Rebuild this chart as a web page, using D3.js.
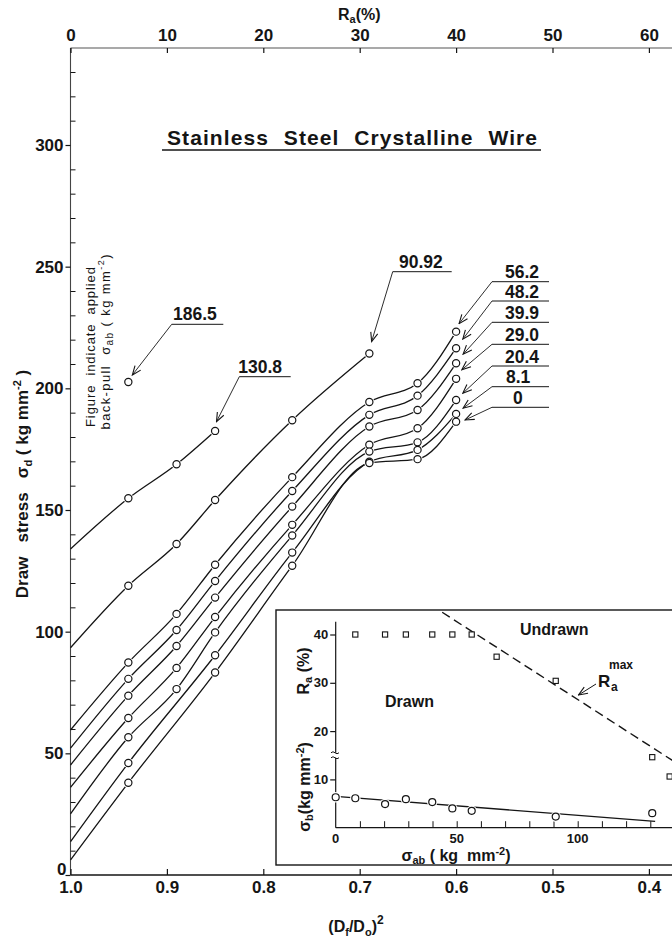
<!DOCTYPE html>
<html>
<head>
<meta charset="utf-8">
<script src="https://cdn.jsdelivr.net/npm/d3@7/dist/d3.min.js"></script>
<style>
html,body{margin:0;padding:0;background:#fff;}
svg{display:block;}
text{font-family:"Liberation Sans",Arial,sans-serif;fill:#151515;white-space:pre;}
</style>
</head>
<body>
<svg id="chart" width="672" height="942"></svg>
<script>
// ---------------- data ----------------
const ratioTicks = [1.0, 0.9, 0.8, 0.7, 0.6, 0.5, 0.4];
const ratioTickLabels = ["1.0", "0.9", "0.8", "0.7", "0.6", "0.5", "0.4"];
const reductionTicks = [0, 10, 20, 30, 40, 50, 60];
const stressTicks = [0, 50, 100, 150, 200, 250, 300];

// (Df/Do)^2 positions of the measurements (1.0 = extrapolated intercept, no marker)
const ratioX = [1.0, 0.94, 0.89, 0.85, 0.77, 0.69, 0.64, 0.60];

// draw stress (kg mm^-2) for each applied back-pull
const bp562 = [59.6, 87.3, 107.3, 127.5, 163.5, 194.4, 202.1, 223.3];
const bp482 = [52.1, 80.6, 100.7, 120.8, 157.8, 189.1, 197.0, 216.5];
const bp399 = [45.2, 73.7, 94.1, 114.0, 151.4, 184.3, 191.1, 210.3];
const bp290 = [36.0, 64.5, 85.1, 106.0, 143.9, 176.8, 183.6, 203.9];
const bp204 = [25.1, 56.6, 76.4, 99.7, 139.5, 174.0, 177.8, 195.2];
const bp81  = [13.7, 46.0, null, 90.3, 132.5, 169.8, 174.7, 189.5];
const bp0   = [6.2, 37.9, null, 83.2, 127.1, 169.3, 170.9, 186.3];
const bp9092 = [93.4, 118.9, 136.0, 154.1, 186.9, 214.3];
const bp1308 = [134.0, 154.8, 168.8, 182.5];
const bp1865 = [null, 202.6];

const rightLabels = ["56.2", "48.2", "39.9", "29.0", "20.4", "8.1", "0"];
const leftLabels = ["186.5", "130.8", "90.92"];

// inset
const insetBackPull = [0, 8.1, 20.4, 29.0, 39.9, 48.2, 56.2, 90.92, 130.8];
const insetSigmaB   = [6.3, 6.1, 4.9, 5.9, 5.3, 4.0, 3.5, 2.3, 3.0];
const rMaxBackPull  = [8.1, 20.4, 29.0, 39.9, 48.2, 56.2, 66.5, 90.92, 130.8, 138.0];
const rMaxValues    = [40, 40, 40, 40, 40, 40, 35.4, 30.4, 14.6, 10.6];
const rMaxLineBackPull = [44, 142];
const rMaxLineValues   = [44.6, 13.0];
const sigmaBFitBackPull = [0, 132];
const sigmaBFitValues   = [6.5, 1.3];
const insetXTicks = [10, 20, 30, 40, 50, 60, 70, 80, 90, 100, 110, 120, 130];
const insetXLabels = [0, 50, 100];
const insetYTicks = [10, 20, 30, 40];

// ---------------- drawing ----------------
const svg = d3.select("#chart");
const INK = "#151515";

const x = d3.scaleLinear().domain([1.0, 0.4]).range([70.5, 648.9]);
const xTop = d3.scaleLinear().domain([0, 60]).range([70.5, 648.9]);
const y = d3.scaleLinear().domain([0, 300]).range([875, 145]);

const defs = svg.append("defs");
defs.append("marker").attr("id", "arr")
  .attr("viewBox", "-11 -5 12 10").attr("refX", 0).attr("refY", 0)
  .attr("markerWidth", 12).attr("markerHeight", 10)
  .attr("markerUnits", "userSpaceOnUse").attr("orient", "auto")
  .append("path").attr("d", "M-9,-3.6L0,0L-9,3.6")
  .attr("fill", "none").attr("stroke", INK).attr("stroke-width", 1.1);

function styleAxis(g, fs) {
  g.attr("font-family", null).attr("font-size", null);
  g.selectAll(".tick line").attr("stroke", INK).attr("stroke-width", 1.2);
  g.selectAll(".tick text").attr("font-size", fs).attr("fill", INK).attr("font-weight", "bold");
  g.select(".domain").remove();
}

// axis lines
svg.append("line").attr("x1", 70.5).attr("x2", 672).attr("y1", 875).attr("y2", 875)
  .attr("stroke", INK).attr("stroke-width", 1.3);
svg.append("line").attr("x1", 70.5).attr("x2", 672).attr("y1", 48).attr("y2", 48)
  .attr("stroke", "#555").attr("stroke-width", 1.1);
svg.append("line").attr("x1", 70.5).attr("x2", 70.5).attr("y1", 48).attr("y2", 875)
  .attr("stroke", "#444").attr("stroke-width", 1.1);

// bottom axis
const gB = svg.append("g").attr("transform", "translate(0,875)")
  .call(d3.axisBottom(x).tickValues(ratioTicks).tickFormat((d, i) => ratioTickLabels[i])
    .tickSizeInner(-6).tickSizeOuter(0).tickPadding(6));
styleAxis(gB, 17);
// top axis
const gT = svg.append("g").attr("transform", "translate(0,48)")
  .call(d3.axisTop(xTop).tickValues(reductionTicks).tickSizeInner(-5).tickSizeOuter(0).tickPadding(7));
styleAxis(gT, 17);
// left axis (major ticks outward)
const gL = svg.append("g").attr("transform", "translate(70.5,0)")
  .call(d3.axisLeft(y).tickValues(stressTicks).tickSizeInner(5).tickSizeOuter(0).tickPadding(2));
styleAxis(gL, 17);
gL.selectAll(".tick").filter(d => d === 0).select("text").attr("dy", "-0.05em").attr("x", -4);
// minor ticks inward
const minor = d3.range(10, 340, 10).filter(v => v % 50 !== 0);
const gM = svg.append("g").attr("transform", "translate(70.5,0)")
  .call(d3.axisRight(y).tickValues(minor).tickSizeInner(5).tickSizeOuter(0).tickFormat(() => ""));
styleAxis(gM, 10);
gM.selectAll(".tick line").attr("stroke-width", 1);

// axis titles
const topT = svg.append("text").attr("x", 338).attr("y", 20).attr("font-size", 16).attr("font-weight", "bold");
topT.append("tspan").text("R");
topT.append("tspan").attr("dy", 3).attr("font-size", 11).text("a");
topT.append("tspan").attr("dy", -3).text("(%)");

const botT = svg.append("text").attr("x", 356).attr("y", 932).attr("text-anchor", "middle")
  .attr("font-size", 16).attr("font-weight", "bold");
botT.append("tspan").text("(D");
botT.append("tspan").attr("dy", 4).attr("font-size", 11).text("f");
botT.append("tspan").attr("dy", -4).text("/D");
botT.append("tspan").attr("dy", 4).attr("font-size", 11).text("o");
botT.append("tspan").attr("dy", -4).text(")");
botT.append("tspan").attr("dy", -8).attr("font-size", 12).text("2");

const yl = svg.append("text").attr("transform", "translate(28,484) rotate(-90)")
  .attr("text-anchor", "middle").attr("font-size", 17).attr("font-weight", "bold");
yl.append("tspan").text("Draw   stress   σ");
yl.append("tspan").attr("dy", 4).attr("font-size", 11).text("d");
yl.append("tspan").attr("dy", -4).text(" ( kg mm");
yl.append("tspan").attr("dy", -7).attr("font-size", 11).text("-2");
yl.append("tspan").attr("dy", 7).text(" )");

// title
svg.append("text").attr("x", 167).attr("y", 145).attr("font-size", 21).attr("font-weight", "bold")
  .attr("textLength", 370).attr("lengthAdjust", "spacing").style("word-spacing", "8px")
  .text("Stainless Steel Crystalline Wire");
svg.append("line").attr("x1", 162).attr("x2", 541).attr("y1", 150).attr("y2", 150)
  .attr("stroke", INK).attr("stroke-width", 1.3);

// vertical annotation
svg.append("text").attr("transform", "translate(94.5,347) rotate(-90)")
  .attr("text-anchor", "middle").attr("font-size", 13)
  .attr("textLength", 160).attr("lengthAdjust", "spacing")
  .text("Figure  indicate  applied");
const an2 = svg.append("text").attr("transform", "translate(109.5,342) rotate(-90)")
  .attr("text-anchor", "middle").attr("font-size", 13)
  .attr("textLength", 175).attr("lengthAdjust", "spacing");
an2.append("tspan").text("back-pull  σ");
an2.append("tspan").attr("dy", 3).attr("font-size", 10).text("ab");
an2.append("tspan").attr("dy", -3).text(" ( kg mm");
an2.append("tspan").attr("dy", -6).attr("font-size", 9).text("-2");
an2.append("tspan").attr("dy", 6).text(")");

// series
const seriesList = [
  {label: "56.2", vals: bp562}, {label: "48.2", vals: bp482}, {label: "39.9", vals: bp399},
  {label: "29.0", vals: bp290}, {label: "20.4", vals: bp204}, {label: "8.1", vals: bp81},
  {label: "0", vals: bp0}, {label: "90.92", vals: bp9092}, {label: "130.8", vals: bp1308},
  {label: "186.5", vals: bp1865}
];
const lineGen = d3.line().x(d => x(d[0])).y(d => y(d[1])).curve(d3.curveMonotoneX);

seriesList.forEach(s => {
  const pts = s.vals.map((v, i) => [ratioX[i], v]).filter(p => p[1] !== null);
  if (pts.length > 1) {
    svg.append("path").attr("d", lineGen(pts)).attr("fill", "none")
      .attr("stroke", INK).attr("stroke-width", 1.3);
  }
});
seriesList.forEach(s => {
  const pts = s.vals.map((v, i) => [ratioX[i], v]).filter((p, i) => i > 0 && p[1] !== null);
  svg.append("g").selectAll("circle.h").data(pts).join("circle")
    .attr("cx", d => x(d[0])).attr("cy", d => y(d[1])).attr("r", 5).attr("fill", "#fff");
});
seriesList.forEach(s => {
  const pts = s.vals.map((v, i) => [ratioX[i], v]).filter((p, i) => i > 0 && p[1] !== null);
  svg.append("g").selectAll("circle.m").data(pts).join("circle")
    .attr("cx", d => x(d[0])).attr("cy", d => y(d[1])).attr("r", 3.6)
    .attr("fill", "#fff").attr("stroke", INK).attr("stroke-width", 1.2);
});

// right labels with leaders
const rowY = [281.7, 301, 322.3, 344.3, 366, 386.7, 407.3];
const tipOff = [[3, -8], [6.7, -9], [7, -9], [5.7, -9], [6.7, -6.7], [7, -5.7], [9, -1.7]];
rightLabels.forEach((lab, i) => {
  const s = seriesList[i];
  const px = x(ratioX[7]) + tipOff[i][0], py = y(s.vals[7]) + tipOff[i][1];
  svg.append("line").attr("x1", 492).attr("x2", 549).attr("y1", rowY[i]).attr("y2", rowY[i])
    .attr("stroke", INK).attr("stroke-width", 1);
  svg.append("line").attr("x1", 492).attr("y1", rowY[i]).attr("x2", px).attr("y2", py)
    .attr("stroke", INK).attr("stroke-width", 0.9).attr("marker-end", "url(#arr)");
  svg.append("text").attr("x", lab === "0" ? 513 : (lab === "8.1" ? 506 : 505)).attr("y", rowY[i] - 3.5)
    .attr("font-size", 17.5).attr("font-weight", "bold").text(lab);
});

// left labels
const leftLayout = [
  {tx: 173, ty: 319.5, ux1: 171.7, ux2: 223.3, uy: 324.3, s: 9, idx: 1, off: [4, -7]},
  {tx: 238.3, ty: 373, ux1: 239.3, ux2: 290.7, uy: 376.7, s: 8, idx: 3, off: [1.4, -9.3]},
  {tx: 399, ty: 268.3, ux1: 392.7, ux2: 451.7, uy: 271.7, s: 7, idx: 5, off: [2.3, -12]}
];
leftLabels.forEach((lab, i) => {
  const L = leftLayout[i];
  const s = seriesList[L.s];
  const px = x(ratioX[L.idx]) + L.off[0], py = y(s.vals[L.idx]) + L.off[1];
  svg.append("line").attr("x1", L.ux1).attr("x2", L.ux2).attr("y1", L.uy).attr("y2", L.uy)
    .attr("stroke", INK).attr("stroke-width", 1);
  svg.append("line").attr("x1", L.ux1).attr("y1", L.uy).attr("x2", px).attr("y2", py)
    .attr("stroke", INK).attr("stroke-width", 0.9).attr("marker-end", "url(#arr)");
  svg.append("text").attr("x", L.tx).attr("y", L.ty).attr("font-size", 17.5)
    .attr("font-weight", "bold").text(lab);
});

// ---------------- inset ----------------
const ix = d3.scaleLinear().domain([0, 100]).range([335.7, 577.7]);
const iy = d3.scaleLinear().domain([0, 40]).range([827.7, 634.5]);

svg.append("rect").attr("x", 276).attr("y", 610).attr("width", 460).attr("height", 255)
  .attr("fill", "#fff").attr("stroke", INK).attr("stroke-width", 1.4);

svg.append("line").attr("x1", 335.7).attr("x2", 335.7).attr("y1", 621.7).attr("y2", 827.7)
  .attr("stroke", INK).attr("stroke-width", 1.2);
svg.append("line").attr("x1", 335.7).attr("x2", 680).attr("y1", 827.7).attr("y2", 827.7)
  .attr("stroke", INK).attr("stroke-width", 1.2);

const giX = svg.append("g").attr("transform", "translate(0,827.7)")
  .call(d3.axisBottom(ix).tickValues(insetXTicks).tickSizeInner(-6.5).tickSizeOuter(0).tickFormat(() => ""));
styleAxis(giX, 10);
giX.selectAll(".tick line").attr("stroke-width", 1);
svg.append("g").selectAll("text").data(insetXLabels).join("text")
  .attr("x", d => ix(d)).attr("y", 843).attr("text-anchor", "middle")
  .attr("font-size", 13).attr("font-weight", "bold").text(d => d);

const giY = svg.append("g").attr("transform", "translate(335.7,0)")
  .call(d3.axisLeft(iy).tickValues(insetYTicks).tickSizeInner(5.5).tickSizeOuter(0).tickPadding(2));
styleAxis(giY, 13);

// axis break
const brY = iy(15);
svg.append("rect").attr("x", 331).attr("y", brY - 2.5).attr("width", 9).attr("height", 5).attr("fill", "#fff");
[-2.5, 2.5].forEach(o => {
  svg.append("path").attr("d", `M331,${brY + o} q2,-2 4,0 t4,0`).attr("fill", "none")
    .attr("stroke", INK).attr("stroke-width", 1);
});

// inset axis titles
const iyl1 = svg.append("text").attr("transform", "translate(309,671) rotate(-90)")
  .attr("text-anchor", "middle").attr("font-size", 16).attr("font-weight", "bold");
iyl1.append("tspan").text("R");
iyl1.append("tspan").attr("dy", 3).attr("font-size", 11).text("a");
iyl1.append("tspan").attr("dy", -3).text(" (%)");

const iyl2 = svg.append("text").attr("transform", "translate(310,787) rotate(-90)")
  .attr("text-anchor", "middle").attr("font-size", 16).attr("font-weight", "bold");
iyl2.append("tspan").text("σ");
iyl2.append("tspan").attr("dy", 3).attr("font-size", 11).text("b");
iyl2.append("tspan").attr("dy", -3).text("(kg mm");
iyl2.append("tspan").attr("dy", -6).attr("font-size", 11).text("-2");
iyl2.append("tspan").attr("dy", 6).text(")");

const ixl = svg.append("text").attr("x", 456).attr("y", 861).attr("text-anchor", "middle")
  .attr("font-size", 16).attr("font-weight", "bold");
ixl.append("tspan").text("σ");
ixl.append("tspan").attr("dy", 3).attr("font-size", 11).text("ab");
ixl.append("tspan").attr("dy", -3).text(" ( kg  mm");
ixl.append("tspan").attr("dy", -6).attr("font-size", 11).text("-2");
ixl.append("tspan").attr("dy", 6).text(")");

svg.append("text").attr("x", 520).attr("y", 635).attr("font-size", 16).attr("font-weight", "bold").text("Undrawn");
svg.append("text").attr("x", 385).attr("y", 707).attr("font-size", 16).attr("font-weight", "bold").text("Drawn");

// R_a max dashed line
const rLine = rMaxLineBackPull.map((v, i) => [v, rMaxLineValues[i]]);
svg.append("path").attr("d", d3.line().x(d => ix(d[0])).y(d => iy(d[1]))(rLine))
  .attr("fill", "none").attr("stroke", INK).attr("stroke-width", 1.4).attr("stroke-dasharray", "9,5");

// sigma_b fit line
const sLine = sigmaBFitBackPull.map((v, i) => [v, sigmaBFitValues[i]]);
svg.append("path").attr("d", d3.line().x(d => ix(d[0])).y(d => iy(d[1]))(sLine))
  .attr("fill", "none").attr("stroke", INK).attr("stroke-width", 1.3);

// squares
svg.append("g").selectAll("rect").data(rMaxBackPull.map((v, i) => [v, rMaxValues[i]])).join("rect")
  .attr("x", d => ix(d[0]) - 2.6).attr("y", d => iy(d[1]) - 2.6).attr("width", 5.2).attr("height", 5.2)
  .attr("fill", "#fff").attr("stroke", INK).attr("stroke-width", 1.1);
// sigma_b circles
const sPts = insetBackPull.map((v, i) => [v, insetSigmaB[i]]);
svg.append("g").selectAll("circle.h").data(sPts).join("circle")
  .attr("cx", d => ix(d[0])).attr("cy", d => iy(d[1])).attr("r", 5.2).attr("fill", "#fff");
svg.append("g").selectAll("circle.m").data(sPts).join("circle")
  .attr("cx", d => ix(d[0])).attr("cy", d => iy(d[1])).attr("r", 3.5)
  .attr("fill", "#fff").attr("stroke", INK).attr("stroke-width", 1.2);

// R_a max label
const rml = svg.append("text").attr("x", 598).attr("y", 687).attr("font-size", 17).attr("font-weight", "bold");
rml.append("tspan").text("R");
rml.append("tspan").attr("x", 611).attr("dy", 4).attr("font-size", 12).text("a");
svg.append("text").attr("x", 609).attr("y", 669).attr("font-size", 12).attr("font-weight", "bold").text("max");
svg.append("line").attr("x1", 596).attr("y1", 684).attr("x2", 578.5).attr("y2", 695)
  .attr("stroke", INK).attr("stroke-width", 1).attr("marker-end", "url(#arr)");
</script>
</body>
</html>
